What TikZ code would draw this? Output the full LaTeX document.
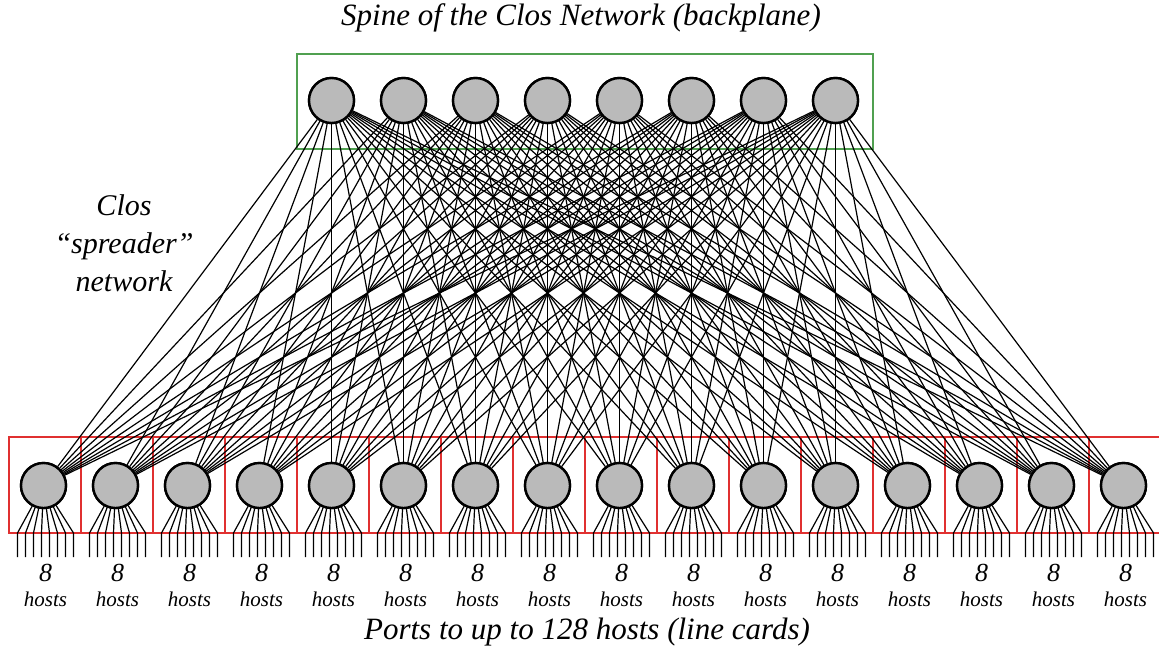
\documentclass[tikz,border=0pt]{standalone}
\usepackage{fontspec}
\setmainfont{Liberation Serif}
\newfontfamily\tms[Ligatures=TeX]{Liberation Serif}
\begin{document}
\begin{tikzpicture}[x=1pt,y=-1pt,
  sw/.style={circle,draw=black,line width=2.4pt,fill=black!27,minimum size=45pt,inner sep=0pt},
  link/.style={line width=1.2pt,black},
  redbox/.style={draw={rgb,255:red,224;green,48;blue,48},line width=1.3pt,minimum width=72pt,minimum height=96pt,inner sep=0pt},
  greenbox/.style={draw={rgb,255:red,80;green,160;blue,80},line width=1.3pt,minimum width=576pt,minimum height=95pt,inner sep=0pt},
  lbl/.style={inner sep=0pt}]
\useasboundingbox (0,0) rectangle (1159,651);
% spine box
\node[greenbox] (spinebox) at (585,101.5) {};
% leaf boxes
\foreach \j in {1,...,16}{
  \node[redbox] (lb\j) at ({45+72*(\j-1)},485) {};
}
% spine nodes
\foreach \i in {1,...,8}{
  \node[sw] (s\i) at ({331.5+72*(\i-1)},100.5) {};
}
% leaf nodes
\foreach \j in {1,...,16}{
  \node[sw] (l\j) at ({43.5+72*(\j-1)},485.5) {};
}
% spreader links
\foreach \i in {1,...,8}{
  \foreach \j in {1,...,16}{
    \draw[link] (s\i) -- (l\j);
  }
}
% host ports
\foreach \j in {1,...,16}{
  \foreach \k in {0,...,7}{
    \coordinate (h\j-\k) at ({43.5+72*(\j-1)+2+(\k-3.5)*8},533);
    \coordinate (e\j-\k) at ({43.5+72*(\j-1)+2+(\k-3.5)*8},557);
    \draw[link] (l\j) -- (h\j-\k) -- (e\j-\k);
  }
  \node[lbl,font=\tms\itshape\fontsize{26}{26}\selectfont] (n\j) at ({45.5+72*(\j-1)},573) {8};
  \node[lbl,font=\tms\itshape\fontsize{21}{21}\selectfont] (t\j) at ({45.5+72*(\j-1)},599) {hosts};
}
% redraw nodes on top
\foreach \i in {1,...,8}{
  \node[sw] at (s\i) {};
}
\foreach \j in {1,...,16}{
  \node[sw] at (l\j) {};
}
% titles
\node[lbl,font=\tms\itshape\fontsize{31}{31}\selectfont] (top) at (581,18) {Spine of the Clos Network (backplane)};
\node[lbl,font=\tms\itshape\fontsize{31}{31}\selectfont] (bot) at (587,632) {Ports to up to 128 hosts (line cards)};
\node[lbl,font=\tms\itshape\fontsize{30}{38}\selectfont,align=center] (spread) at (124,243) {Clos\\“spreader”\\network};
\end{tikzpicture}
\end{document}
